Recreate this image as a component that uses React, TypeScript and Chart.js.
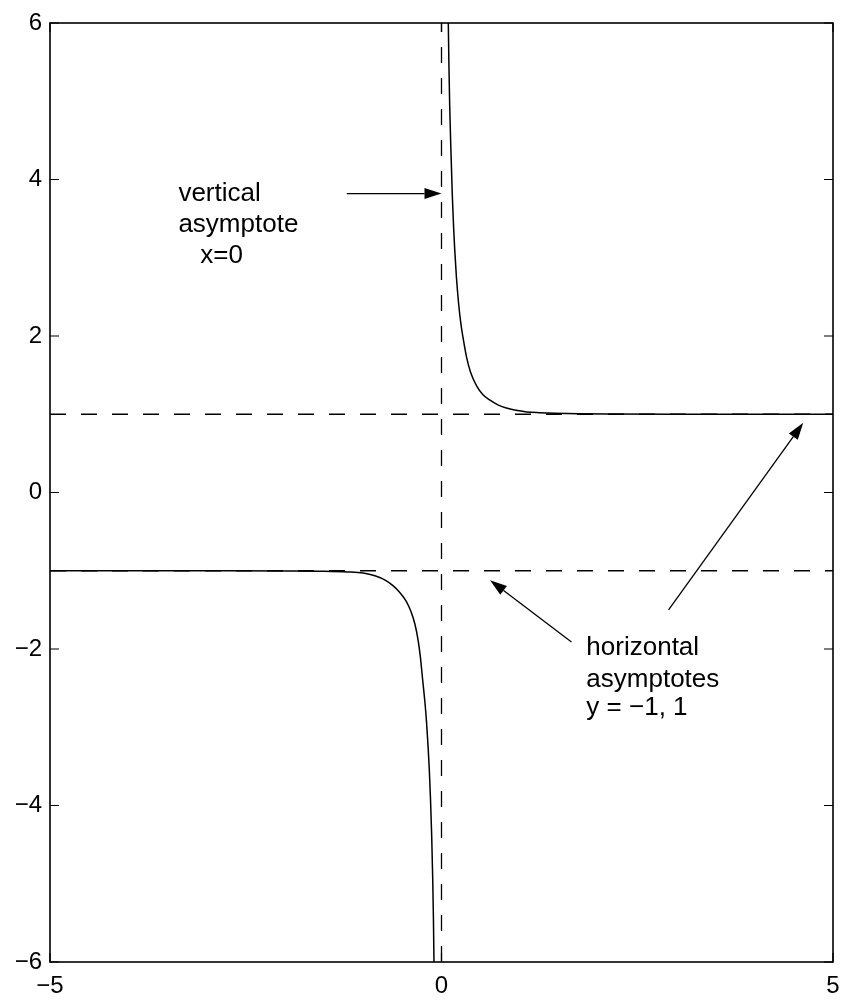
import React, { useEffect, useRef } from "react";
import { Chart, registerables } from "chart.js";

Chart.register(...registerables);

// ---- data ----
const xTickValues = [-5, 0, 5];
const yTickValues = [-6, -4, -2, 0, 2, 4, 6];

const leftBranchX = [-5, -4, -3, -2, -1.5, -1.2, -1.0, -0.85, -0.72, -0.62, -0.53, -0.45, -0.39, -0.34, -0.3, -0.27, -0.24, -0.21, -0.19, -0.17, -0.155, -0.14, -0.125, -0.112, -0.103, -0.096];
const leftBranchY = [-1, -1, -1, -1.002, -1.006, -1.015, -1.03, -1.065, -1.12, -1.19, -1.28, -1.39, -1.52, -1.68, -1.88, -2.1, -2.4, -2.7, -2.95, -3.27, -3.56, -3.93, -4.4, -4.95, -5.45, -6];

const rightBranchX = [0.087, 0.095, 0.105, 0.121, 0.138, 0.155, 0.168, 0.19, 0.22, 0.25, 0.28, 0.32, 0.37, 0.45, 0.53, 0.62, 0.72, 0.83, 0.95, 1.09, 1.25, 1.45, 1.75, 2.2, 3, 4, 5];
const rightBranchY = [6, 5.45, 4.93, 4.35, 3.8, 3.38, 3.12, 2.76, 2.4, 2.14, 1.95, 1.73, 1.54, 1.36, 1.25, 1.18, 1.12, 1.08, 1.05, 1.03, 1.02, 1.012, 1.005, 1.002, 1, 1, 1];

const horizontalAsymptotes = [-1, 1];
const verticalAsymptotes = [0];

const arrowStartX = [-1.21, 1.66, 2.9];
const arrowStartY = [3.82, -1.91, -1.5];
const arrowEndX = [0.0, 0.62, 4.62];
const arrowEndY = [3.82, -1.12, 0.89];

const noteLines = ["vertical", "asymptote", "x=0", "horizontal", "asymptotes", "y = \u22121, 1"];
const noteX = [-3.36, -3.36, -3.08, 1.85, 1.85, 1.85];
const noteY = [3.72, 3.33, 2.93, -2.08, -2.48, -2.84];

const FONT = "'Liberation Sans', Arial, Helvetica, sans-serif";
const fmt = (v: number) => String(v).replace("-", "\u2212");

const decorPlugin = {
  id: "decor",
  afterDatasetsDraw(chart: any) {
    const { ctx, chartArea } = chart;
    const xs = chart.scales.x;
    const ys = chart.scales.y;
    const { left, right, top, bottom } = chartArea;
    ctx.save();
    ctx.strokeStyle = "#000";
    ctx.fillStyle = "#000";
    // frame
    ctx.lineWidth = 1.6;
    ctx.strokeRect(left, top, right - left, bottom - top);
    // inward ticks
    const tl = 9;
    ctx.lineWidth = 1.2;
    ctx.beginPath();
    yTickValues.forEach((v) => {
      const py = ys.getPixelForValue(v);
      ctx.moveTo(left, py);
      ctx.lineTo(left + tl, py);
      ctx.moveTo(right, py);
      ctx.lineTo(right - tl, py);
    });
    xTickValues.forEach((v) => {
      const px = xs.getPixelForValue(v);
      ctx.moveTo(px, bottom);
      ctx.lineTo(px, bottom - tl);
      ctx.moveTo(px, top);
      ctx.lineTo(px, top + tl);
    });
    ctx.stroke();
    // arrows
    arrowStartX.forEach((_, i) => {
      const x0 = xs.getPixelForValue(arrowStartX[i]);
      const y0 = ys.getPixelForValue(arrowStartY[i]);
      const x1 = xs.getPixelForValue(arrowEndX[i]);
      const y1 = ys.getPixelForValue(arrowEndY[i]);
      const ang = Math.atan2(y1 - y0, x1 - x0);
      const hl = 17;
      const hw = 5.5;
      const bx = x1 - hl * Math.cos(ang);
      const by = y1 - hl * Math.sin(ang);
      ctx.lineWidth = 1.3;
      ctx.beginPath();
      ctx.moveTo(x0, y0);
      ctx.lineTo(bx, by);
      ctx.stroke();
      ctx.beginPath();
      ctx.moveTo(x1, y1);
      ctx.lineTo(bx + hw * Math.sin(ang), by - hw * Math.cos(ang));
      ctx.lineTo(bx - hw * Math.sin(ang), by + hw * Math.cos(ang));
      ctx.closePath();
      ctx.fill();
    });
    // notes
    ctx.font = `26px ${FONT}`;
    ctx.textAlign = "left";
    ctx.textBaseline = "alphabetic";
    noteLines.forEach((t, i) => {
      ctx.fillText(t, xs.getPixelForValue(noteX[i]), ys.getPixelForValue(noteY[i]));
    });
    ctx.restore();
  },
};

export default function App() {
  const canvasRef = useRef<HTMLCanvasElement>(null);
  useEffect(() => {
    if (!canvasRef.current) return;
    const dashed = (pts: { x: number; y: number }[]) => ({
      data: pts,
      borderColor: "#000",
      borderWidth: 1.3,
      borderDash: [16, 15],
      pointRadius: 0,
      fill: false,
    });
    const datasets: any[] = [
      ...horizontalAsymptotes.map((v) => dashed([{ x: -5, y: v }, { x: 5, y: v }])),
      ...verticalAsymptotes.map((v) => dashed([{ x: v, y: -6 }, { x: v, y: 6 }])),
      {
        data: leftBranchX.map((x, i) => ({ x, y: leftBranchY[i] })),
        borderColor: "#000",
        borderWidth: 1.5,
        pointRadius: 0,
        cubicInterpolationMode: "monotone",
        fill: false,
      },
      {
        data: rightBranchX.map((x, i) => ({ x, y: rightBranchY[i] })),
        borderColor: "#000",
        borderWidth: 1.5,
        pointRadius: 0,
        cubicInterpolationMode: "monotone",
        fill: false,
      },
    ];
    const chart = new Chart(canvasRef.current, {
      type: "line",
      data: { datasets },
      plugins: [decorPlugin],
      options: {
        animation: false,
        responsive: true,
        maintainAspectRatio: false,
        layout: { padding: { top: 23, right: 10, left: 0, bottom: 0 } },
        plugins: { legend: { display: false }, tooltip: { enabled: false } },
        scales: {
          x: {
            type: "linear",
            min: -5,
            max: 5,
            grid: { display: false, drawTicks: false },
            border: { display: false },
            afterBuildTicks: (s: any) => {
              s.ticks = xTickValues.map((v) => ({ value: v }));
            },
            afterFit: (s: any) => {
              s.height = 39;
              s.paddingLeft = 0;
              s.paddingRight = 0;
            },
            ticks: {
              color: "#000",
              font: { family: FONT, size: 24 },
              padding: 10,
              maxRotation: 0,
              autoSkip: false,
              callback: (v: any) => fmt(v),
            },
          },
          y: {
            type: "linear",
            min: -6,
            max: 6,
            grid: { display: false, drawTicks: false },
            border: { display: false },
            afterBuildTicks: (s: any) => {
              s.ticks = yTickValues.map((v) => ({ value: v }));
            },
            afterFit: (s: any) => {
              s.width = 50;
              s.paddingTop = 0;
              s.paddingBottom = 0;
            },
            ticks: {
              color: "#000",
              font: { family: FONT, size: 24 },
              padding: 8,
              autoSkip: false,
              callback: (v: any) => fmt(v),
            },
          },
        },
      },
    } as any);
    return () => chart.destroy();
  }, []);
  return (
    <div style={{ position: "fixed", left: 0, top: 0, width: 843, height: 1001, overflow: "hidden" }}>
      <canvas ref={canvasRef} style={{ display: "block" }} />
    </div>
  );
}
